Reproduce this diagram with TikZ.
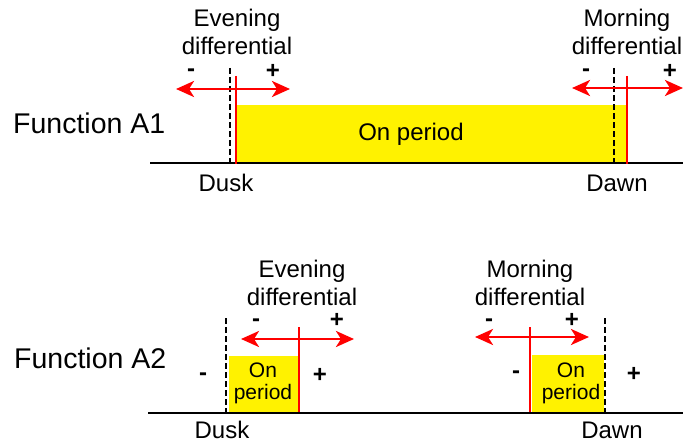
\documentclass[tikz,border=0pt]{standalone}
\usepackage{fontspec}
\setmainfont{Liberation Sans}
\usetikzlibrary{arrows.meta}
\begin{document}
\begin{tikzpicture}[x=1pt,y=-1pt,
  txt/.style={inner sep=0pt, anchor=base, font=\fontsize{24}{29}\selectfont},
  big/.style={inner sep=0pt, anchor=base west, font=\fontsize{28.5}{32}\selectfont},
  small/.style={inner sep=0pt, anchor=base, font=\fontsize{21}{23}\selectfont},
  sign/.style={inner sep=0pt, font=\bfseries\fontsize{24}{26}\selectfont},
  base/.style={line width=2.8pt, black},
  dashline/.style={line width=2.6pt, black, dash pattern=on 6pt off 3pt},
  redline/.style={line width=2.8pt, red},
  redarrow/.style={line width=2.8pt, red, {Stealth[length=18pt,width=16pt,inset=5pt]}-{Stealth[length=18pt,width=16pt,inset=5pt]}}]
\useasboundingbox (0,0) rectangle (683,444);

% ---------- Function A1 ----------
\fill[yellow] (236,105) rectangle (627,163);
\node[big] (fa1) at (13,133) {Function A1};
\node[txt] (onp) at (411,140) {On period};

\coordinate (b1l) at (150,163);
\coordinate (b1r) at (683,163);
\draw[base] (b1l) -- (b1r);

\coordinate (d1t) at (230,68);  \coordinate (d1b) at (230,163);
\draw[dashline] (d1t) -- (d1b);
\coordinate (r1t) at (236,76);  \coordinate (r1b) at (236,164);
\draw[redline] (r1t) -- (r1b);
\coordinate (a1l) at (176,89);  \coordinate (a1r) at (290,89);
\draw[redarrow] (a1l) -- (a1r);
\node[sign] (m1) at (191,73) {-};
\node[sign] (p1) at (273,71) {+};
\node[txt] (ev1a) at (237,27) {Evening};
\node[txt] (ev1b) at (237,55) {differential};
\node[txt] (dusk1) at (226,191) {Dusk};

\coordinate (d2t) at (614,68);  \coordinate (d2b) at (614,163);
\draw[dashline] (d2t) -- (d2b);
\coordinate (r2t) at (627,76);  \coordinate (r2b) at (627,164);
\draw[redline] (r2t) -- (r2b);
\coordinate (a2l) at (572,88);  \coordinate (a2r) at (683,88);
\draw[redarrow] (a2l) -- (a2r);
\node[sign] (m2) at (586,73) {-};
\node[sign] (p2) at (670,71) {+};
\node[txt] (mo1a) at (627,27) {Morning};
\node[txt] (mo1b) at (627,55) {differential};
\node[txt] (dawn1) at (617,191) {Dawn};

% ---------- Function A2 ----------
\node[big] (fa2) at (14,368) {Function A2};
\coordinate (b2l) at (148,413);
\coordinate (b2r) at (683,413);

% evening part
\fill[yellow] (229,356) rectangle (299,413);
\node[small] (on2a) at (263,377) {On};
\node[small] (on2b) at (263,399) {period};
\coordinate (d3t) at (226,318);  \coordinate (d3b) at (226,413);
\draw[dashline] (d3t) -- (d3b);
\coordinate (r3t) at (299,327);  \coordinate (r3b) at (299,414);
\draw[redline] (r3t) -- (r3b);
\coordinate (a3l) at (241,339);  \coordinate (a3r) at (354,339);
\draw[redarrow] (a3l) -- (a3r);
\node[sign] (m3) at (256,323) {-};
\node[sign] (p3) at (337,320) {+};
\node[sign] (m3b) at (203,377) {-};
\node[sign] (p3b) at (320,375) {+};
\node[txt] (ev2a) at (302,277) {Evening};
\node[txt] (ev2b) at (302,305) {differential};
\node[txt] (dusk2) at (222,438) {Dusk};

% morning part
\fill[yellow] (532,355) rectangle (604,413);
\node[small] (on3a) at (571,377) {On};
\node[small] (on3b) at (571,399) {period};
\coordinate (d4t) at (605,318);  \coordinate (d4b) at (605,413);
\draw[dashline] (d4t) -- (d4b);
\coordinate (r4t) at (530,327);  \coordinate (r4b) at (530,414);
\draw[redline] (r4t) -- (r4b);
\coordinate (a4l) at (475,337);  \coordinate (a4r) at (589,337);
\draw[redarrow] (a4l) -- (a4r);
\node[sign] (m4) at (489,323) {-};
\node[sign] (p4) at (572,320) {+};
\node[sign] (m4b) at (516,375) {-};
\node[sign] (p4b) at (634,374) {+};
\node[txt] (mo2a) at (530,277) {Morning};
\node[txt] (mo2b) at (530,305) {differential};
\node[txt] (dawn2) at (612,438) {Dawn};

\draw[base] (b2l) -- (b2r);
\end{tikzpicture}
\end{document}
